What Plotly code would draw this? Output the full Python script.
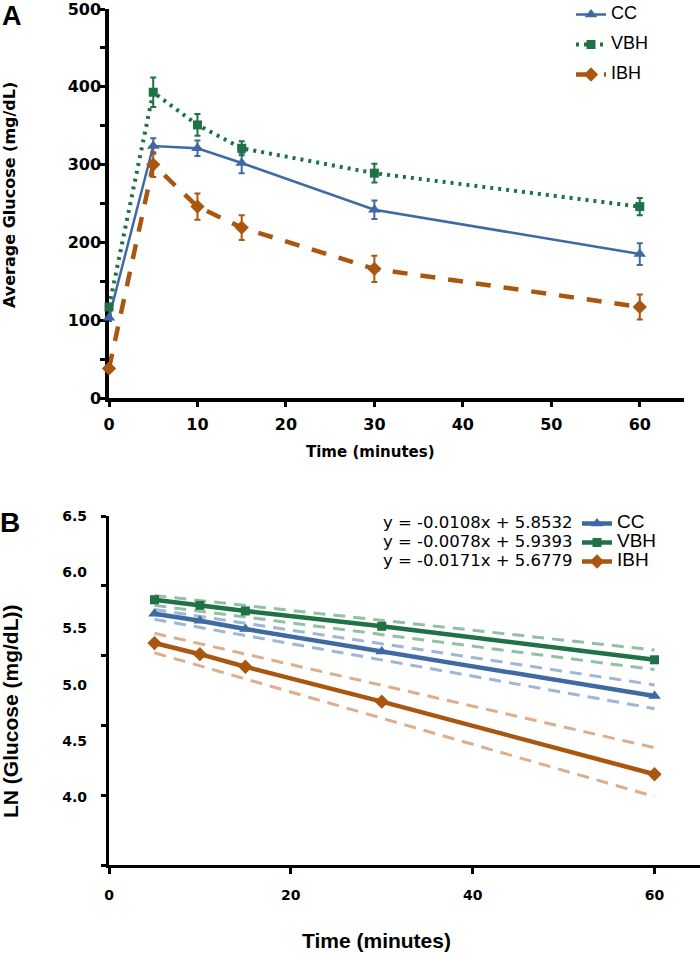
import plotly.graph_objects as go

# ---------------- Panel A data ----------------
time_a = [0, 5, 10, 15, 30, 60]
cc_mean = [103, 324, 321, 302, 242, 185]
cc_err = [4, 10, 10, 13, 12, 14]
vbh_mean = [117, 393, 351, 321, 289, 246]
vbh_err = [4, 19, 14, 9, 12, 11]
ibh_mean = [38, 300, 246, 219, 166, 117]
ibh_err = [4, 16, 17, 16, 17, 16]

# ---------------- Panel B data ----------------
time_b = [5, 10, 15, 30, 60]
cc_ln = [5.80, 5.75, 5.69, 5.53, 5.21]
vbh_ln = [5.90, 5.86, 5.82, 5.71, 5.47]
ibh_ln = [5.59, 5.51, 5.42, 5.17, 4.65]

band_t = [5, 60]
cc_upper = [5.83, 5.29]
cc_lower = [5.76, 5.12]
vbh_upper = [5.93, 5.54]
vbh_lower = [5.86, 5.40]
ibh_upper = [5.66, 4.84]
ibh_lower = [5.52, 4.49]

equations = ["y = -0.0108x + 5.8532", "y = -0.0078x + 5.9393", "y = -0.0171x + 5.6779"]
series_names = ["CC", "VBH", "IBH"]

ticks_a_x = [0, 10, 20, 30, 40, 50, 60]
ticks_a_y = [0, 100, 200, 300, 400, 500]
ticks_b_x = [0, 20, 40, 60]
ticks_b_y = [4.0, 4.5, 5.0, 5.5, 6.0, 6.5]

BLUE = "#3E69A3"
GREEN = "#1E7244"
BROWN = "#A95610"
BLUE_L = "#9FB6D6"
GREEN_L = "#94C0A2"
BROWN_L = "#DDAE8C"

ARIAL = "Liberation Sans, Arial, sans-serif"
WIDE = "DejaVu Sans, Liberation Sans, sans-serif"
W, H = 700, 953


def px(x):
    return x / W


def py(y):
    return 1 - y / H


fig = go.Figure()

# ---- Panel A traces ----
specs_a = [
    (cc_mean, cc_err, BLUE, "triangle-up", 11, dict(width=2.5)),
    (vbh_mean, vbh_err, GREEN, "square", 9, dict(width=4, dash="3px,5px")),
    (ibh_mean, ibh_err, BROWN, "diamond", 11, dict(width=4.5, dash="15px,13px")),
]
for i, (ys, es, col, sym, sz, ln) in enumerate(specs_a):
    fig.add_trace(go.Scatter(
        x=time_a, y=ys, mode="lines+markers",
        name="<span style='font-size:18px'>%s</span>" % series_names[i],
        line=dict(color=col, **ln),
        marker=dict(symbol=sym, size=sz, color=col),
        error_y=dict(type="data", array=es, color=col, thickness=2, width=3),
        cliponaxis=False,
        xaxis="x", yaxis="y", legend="legend", legendgroup="a%d" % i))

# ---- Panel B bands (dashed) ----
for up, lo, col in [(vbh_upper, vbh_lower, GREEN_L), (cc_upper, cc_lower, BLUE_L),
                    (ibh_upper, ibh_lower, BROWN_L)]:
    for arr in (up, lo):
        fig.add_trace(go.Scatter(
            x=band_t, y=arr, mode="lines", showlegend=False, hoverinfo="skip",
            line=dict(color=col, width=3, dash="12px,8px"),
            xaxis="x2", yaxis="y2"))

# ---- Panel B fitted lines ----
specs_b = [(cc_ln, BLUE, "triangle-up", 11), (vbh_ln, GREEN, "square", 9),
           (ibh_ln, BROWN, "diamond", 11)]
for i, (ys, col, sym, sz) in enumerate(specs_b):
    fig.add_trace(go.Scatter(
        x=time_b, y=ys, mode="lines+markers",
        name="<span style='font-size:19px'>%s</span>" % series_names[i],
        line=dict(color=col, width=4.5),
        marker=dict(symbol=sym, size=sz, color=col),
        xaxis="x2", yaxis="y2", legend="legend2", legendgroup="b%d" % i))

# empty trace so the label axis is drawn
fig.add_trace(go.Scatter(x=[], y=[], xaxis="x2", yaxis="y3", showlegend=False,
                         hoverinfo="skip"))

tick_font_a = dict(family=WIDE, size=16, color="black", weight="bold")
tick_font_b = dict(family=WIDE, size=14, color="black", weight="bold")

axis_common = dict(showline=True, linecolor="black", showgrid=False, zeroline=False,
                   ticks="outside", tickcolor="black", automargin=False,
                   ticklabeloverflow="allow")

fig.update_layout(
    width=W, height=H,
    margin=dict(l=0, r=0, t=0, b=0, autoexpand=False),
    paper_bgcolor="white", plot_bgcolor="white",
    xaxis=dict(domain=[px(109), px(684)], range=[0, 65], anchor="y",
               tickvals=ticks_a_x, ticklen=5, tickwidth=2.5, linewidth=3.5,
               layer="below traces",
               tickfont=tick_font_a, ticklabelstandoff=4, **axis_common),
    yaxis=dict(domain=[py(398), py(9)], range=[0, 500], anchor="x",
               tickvals=ticks_a_y, ticklen=5, tickwidth=2.5, linewidth=3.5,
               layer="below traces",
               minor=dict(dtick=50, ticks="outside", ticklen=5, tickwidth=2.5,
                          tickcolor="black", showgrid=False),
               tickfont=tick_font_a, ticklabelstandoff=-4, **axis_common),
    xaxis2=dict(domain=[px(109), 1.0], range=[0, 65], anchor="y2",
                tickvals=ticks_b_x, ticklen=6, tickwidth=2.5, linewidth=3,
                tickfont=tick_font_b, ticklabelstandoff=9, **axis_common),
    yaxis2=dict(domain=[py(865), py(516)], range=[4.0, 6.5], anchor="x2",
                tickvals=ticks_b_y, ticklen=5, tickwidth=2.5, linewidth=3,
                showticklabels=False, **axis_common),
    yaxis3=dict(overlaying="y2", anchor="x2", side="left", range=[3.4, 6.5],
                tickvals=ticks_b_y, ticktext=["%.1f" % v for v in ticks_b_y],
                showline=False, showgrid=False, zeroline=False, ticks="",
                automargin=False, ticklabeloverflow="allow",
                tickfont=tick_font_b, ticklabelstandoff=21),
    legend=dict(x=px(571), y=1.0, xanchor="left", yanchor="top",
                font=dict(family=ARIAL, size=12, color="black"),
                tracegroupgap=11, bgcolor="rgba(0,0,0,0)", itemwidth=30),
    legend2=dict(x=px(577), y=py(509), xanchor="left", yanchor="top",
                 font=dict(family=ARIAL, size=12, color="black"),
                 tracegroupgap=0, bgcolor="rgba(0,0,0,0)", itemwidth=30),
    showlegend=True,
)

annotations = [
    dict(text="A", x=px(12), y=py(16), font=dict(family=ARIAL, size=27, weight="bold")),
    dict(text="B", x=px(10), y=py(522), font=dict(family=ARIAL, size=28, weight="bold")),
    dict(text="Average Glucose (mg/dL)", x=px(9), y=py(195), textangle=-90,
         font=dict(family=WIDE, size=16, weight="bold")),
    dict(text="Time (minutes)", x=px(370), y=py(452),
         font=dict(family=WIDE, size=15, weight="bold")),
    dict(text="LN (Glucose (mg/dL))", x=px(10), y=py(711), textangle=-90,
         font=dict(family=ARIAL, size=21, weight="bold")),
    dict(text="Time (minutes)", x=px(376), y=py(940),
         font=dict(family=ARIAL, size=21, weight="bold")),
]
for i, eq in enumerate(equations):
    annotations.append(dict(text=eq, x=px(575), y=py(522 + 19 * i), xanchor="right",
                            font=dict(family=WIDE, size=16.5)))
for a in annotations:
    a.setdefault("xanchor", "center")
    a.setdefault("yanchor", "middle")
    a.update(xref="paper", yref="paper", showarrow=False)
    a["font"].setdefault("color", "black")
fig.update_layout(annotations=annotations)

fig.write_html("out.html", config={"displayModeBar": False},
               post_script="document.body.style.margin='0';")
